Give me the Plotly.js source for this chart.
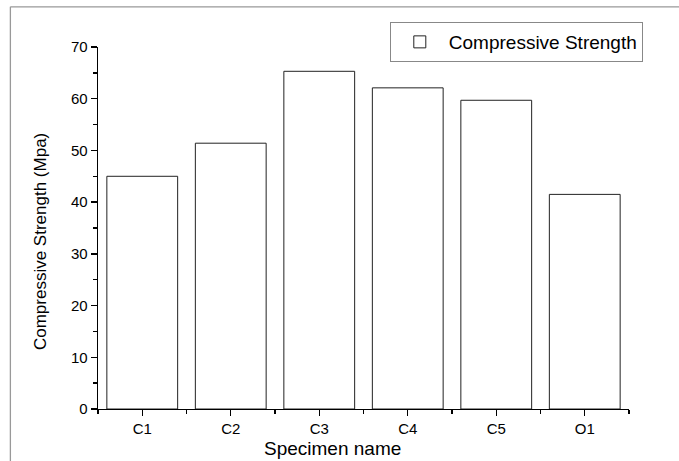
<!DOCTYPE html>
<html>
<head>
<meta charset="utf-8">
<script src="https://cdn.plot.ly/plotly-3.0.1.min.js"></script>
<style>html,body{margin:0;padding:0;background:#fff;}#chart{width:679px;height:461px;}</style>
</head>
<body>
<div id="chart"></div>
<script>
const specimens = ['C1', 'C2', 'C3', 'C4', 'C5', 'O1'];
const strength = [45.0, 51.4, 65.3, 62.1, 59.7, 41.5];
const seriesName = 'Compressive Strength';
const xTitle = 'Specimen name';
const yTitle = 'Compressive Strength (Mpa)';
const boundaryTicks = [-0.5, 0.5, 1.5, 2.5, 3.5, 4.5, 5.5];

const font = 'Liberation Sans, Arial, sans-serif';

const traces = [
  {
    type: 'bar',
    x: specimens,
    y: strength,
    name: seriesName,
    marker: {color: '#ffffff', line: {color: '#222222', width: 1}},
    showlegend: true,
    hoverinfo: 'x+y'
  },
  {
    type: 'scatter',
    x: [boundaryTicks[0]],
    y: [0],
    xaxis: 'x2',
    yaxis: 'y',
    mode: 'markers',
    marker: {opacity: 0},
    showlegend: false,
    hoverinfo: 'skip'
  }
];

const layout = {
  width: 679,
  height: 461,
  margin: {l: 98, r: 50, t: 47, b: 52},
  paper_bgcolor: '#ffffff',
  plot_bgcolor: '#ffffff',
  font: {family: font, color: '#000000', size: 15},
  bargap: 0.2,
  showlegend: true,
  legend: {
    x: 1.026, xanchor: 'right',
    y: 1.069, yanchor: 'top',
    bordercolor: '#888888', borderwidth: 1,
    bgcolor: '#ffffff',
    font: {family: font, size: 19, color: '#000'},
    itemwidth: 48,
    tracegroupgap: 0
  },
  xaxis: {
    type: 'category',
    categoryorder: 'array',
    categoryarray: specimens,
    range: [-0.5, 5.5],
    showline: true, linecolor: '#000', linewidth: 1.3,
    ticks: 'outside', ticklen: 6, tickwidth: 1.3, tickcolor: '#000',
    showgrid: false, zeroline: false,
    tickfont: {family: font, size: 15},
    fixedrange: true
  },
  xaxis2: {
    overlaying: 'x',
    anchor: 'y',
    side: 'bottom',
    range: [-0.5, 5.5],
    tickmode: 'array',
    tickvals: boundaryTicks,
    showticklabels: false,
    ticks: 'outside', ticklen: 4, tickwidth: 1.3, tickcolor: '#000',
    showline: false, showgrid: false, zeroline: false,
    fixedrange: true
  },
  yaxis: {
    range: [0, 70],
    dtick: 10,
    showline: true, linecolor: '#000', linewidth: 1.3,
    ticks: 'outside', ticklen: 6, tickwidth: 1.3, tickcolor: '#000',
    minor: {dtick: 5, ticks: 'outside', ticklen: 4, tickwidth: 1.3, tickcolor: '#000', showgrid: false},
    showgrid: false, zeroline: false,
    tickfont: {family: font, size: 15},
    fixedrange: true
  },
  annotations: [
    {text: xTitle, xref: 'paper', yref: 'paper', x: 0.442, y: -0.11,
     xanchor: 'center', yanchor: 'middle', showarrow: false,
     font: {family: font, size: 19, color: '#000'}},
    {text: yTitle, xref: 'paper', yref: 'paper', x: -0.108, y: 0.463,
     xanchor: 'center', yanchor: 'middle', showarrow: false, textangle: -90,
     font: {family: font, size: 17, color: '#000'}}
  ],
  shapes: [
    {type: 'line', xref: 'paper', yref: 'paper', x0: -0.165, x1: 1.2, y0: 1.111, y1: 1.111,
     line: {color: '#999999', width: 1.3}},
    {type: 'line', xref: 'paper', yref: 'paper', x0: -0.165, x1: -0.165, y0: 1.111, y1: -0.2,
     line: {color: '#999999', width: 1.3}}
  ]
};

Plotly.newPlot('chart', traces, layout, {displayModeBar: false, staticPlot: true});
</script>
</body>
</html>
